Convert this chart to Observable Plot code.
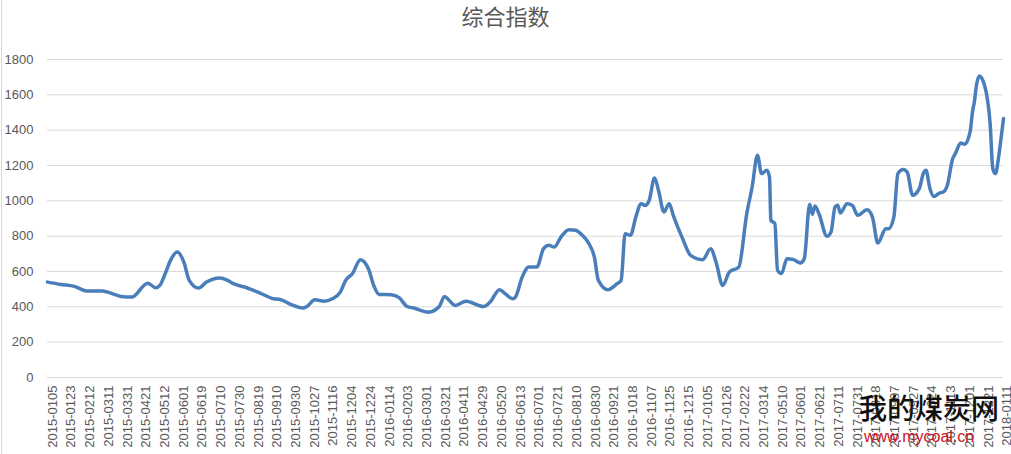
<!DOCTYPE html>
<html>
<head>
<meta charset="utf-8">
<script src="https://cdn.jsdelivr.net/npm/d3@7"></script>
<script src="https://cdn.jsdelivr.net/npm/@observablehq/plot@0.6"></script>
<style>
  html, body { margin: 0; padding: 0; background: #fff; }
  #wrap { position: relative; width: 1011px; height: 454px; overflow: hidden; }
  #title { height: 30px; line-height: 30px; text-align: center; font-family: "Noto Sans CJK SC", sans-serif; font-size: 22px; color: #595959; }
  #frame { position: absolute; left: 1px; top: 0; width: 1px; height: 454px; background: #d9d9d9; }
  #wm1 { position: absolute; left: 859px; top: 392px; font-family: "Noto Sans CJK SC", sans-serif; font-size: 28px; font-weight: 500; color: #111; line-height: 30px; letter-spacing: 0px; }
  #wm2 { position: absolute; left: 864px; top: 428px; font-family: "Liberation Sans", Arial, sans-serif; font-size: 16px; color: #d0101e; line-height: 17px; }
</style>
</head>
<body>
<div id="wrap">
  <div id="title">综合指数</div>
  <div id="chart"></div>
  <div id="frame"></div>
  <div id="wm1">我的煤炭网</div>
  <div id="wm2">www.mycoal.cn</div>
</div>
<script>
// Category tick labels (one every 14 trading days)
const tickLabels = [
  "2015-0105","2015-0123","2015-0212","2015-0311","2015-0331","2015-0421","2015-0512","2015-0601","2015-0619","2015-0710",
  "2015-0730","2015-0819","2015-0910","2015-0930","2015-1027","2015-1116","2015-1204","2015-1224","2016-0114","2016-0203",
  "2016-0301","2016-0321","2016-0411","2016-0429","2016-0520","2016-0613","2016-0701","2016-0721","2016-0810","2016-0830",
  "2016-0921","2016-1018","2016-1107","2016-1125","2016-1215","2017-0105","2017-0126","2017-0222","2017-0314","2017-0510",
  "2017-0601","2017-0621","2017-0711","2017-0731","2017-0818","2017-0907","2017-0927","2017-1024","2017-1113","2017-1201",
  "2017-1221","2018-0111"
];
const labelStep = 14;
const lastIndex = 715;

// Trading-day index of each read point
const dayIndex = [
  0,10,20,30,41,45,55,63,75,81,84,88,92,97,102,106,113,119,129,134,139,149,159,169,174,
  182,191,194,200,207,213,219,223,228,234,240,244,248,257,263,269,274,285,293,297,300,305,313,326,331,338,341,348,350,355,360,
  366,371,375,379,384,390,395,400,405,409,412,419,426,429,432,436,440,444,447,450,454,457,461,465,468,475,481,490,496,500,505,510,517,523,527,531,534,538,540,541,
  544,546,549,553,558,563,566,570,572,574,577,583,586,589,591,593,598,602,606,613,617,621,627,629,633,636,640,643,647,652,655,657,660,663,667,670,673,677,679,683,686,690,692,693,695,697,700,702,705,707,709,711,713,715
];
// 综合指数 value at each point
const indexValue = [
  540,527,516,489,489,483,459,455,534,508,521,587,663,710,653,550,506,540,563,553,531,508,478,446,442,
  414,393,402,440,432,446,483,550,587,667,616,521,470,469,452,402,393,370,402,459,440,408,432,402,427,497,483,446,455,568,625,
  625,729,748,738,795,837,833,805,757,682,550,497,531,550,814,805,908,984,974,1003,1129,1059,937,984,918,786,691,667,729,653,521,597,625,928,1078,1258,1154,1173,1135,890,
  871,606,588,672,667,648,672,980,924,971,927,799,823,965,975,931,984,974,918,950,908,761,842,842,908,1154,1177,1163,1031,1069,1154,1173,1069,1025,1044,1050,1088,1239,1267,1327,1320,1390,1513,1551,1664,1707,1673,1617,1437,1182,1154,1229,1343,1466
];
const yTicks = [0,200,400,600,800,1000,1200,1400,1600,1800];

const data = dayIndex.map((d, i) => ({i: d, v: indexValue[i]}));
const tickPos = tickLabels.map((_, k) => k * labelStep);

const chart = Plot.plot({
  width: 1011,
  height: 424,
  marginLeft: 47,
  marginRight: 8,
  marginTop: 29,
  marginBottom: 77,
  style: {fontFamily: "'Liberation Sans', Arial, sans-serif", fontSize: "13px", color: "#595959", background: "#fff"},
  x: {domain: [0, lastIndex]},
  y: {domain: [0, 1800]},
  marks: [
    Plot.gridY(yTicks, {stroke: "#d9d9d9", strokeOpacity: 1, strokeWidth: 1}),
    Plot.axisY(yTicks, {tickSize: 0, tickPadding: 14, label: null, fill: "#595959", fontSize: 13, tickFormat: d => String(d)}),
    Plot.axisX(tickPos, {tickSize: 0, tickPadding: 8, tickRotate: -90, label: null, fill: "#595959", fontSize: 13, dx: 5,
      tickFormat: d => tickLabels[d / labelStep]}),
    Plot.line(data, {x: "i", y: "v", stroke: "#4a7ebb", strokeWidth: 3.5, curve: "monotone-x", strokeLinejoin: "round", strokeLinecap: "round"})
  ]
});
document.getElementById("chart").appendChild(chart);
</script>
</body>
</html>
